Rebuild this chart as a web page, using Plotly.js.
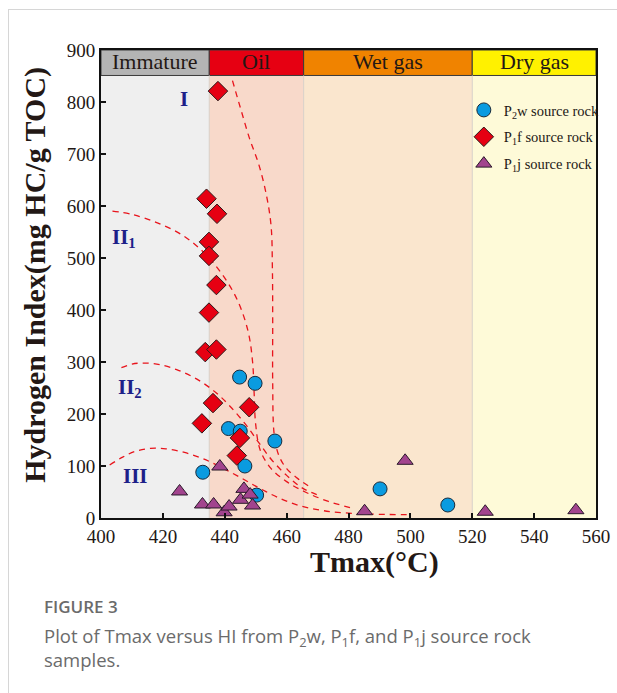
<!DOCTYPE html>
<html>
<head>
<meta charset="utf-8">
<script src="https://cdn.plot.ly/plotly-3.0.1.min.js"></script>
<style>
html,body{margin:0;padding:0;background:#fff;}
#frame{position:absolute;left:8px;top:9px;width:609px;height:684px;border-left:1px solid #d6d6d6;border-top:1px solid #d6d6d6;}
#chart{position:absolute;left:0;top:0;width:617px;height:693px;}
</style>
</head>
<body>
<div id="frame"></div>
<div id="chart"></div>
<script>
// Maturity zones (Tmax boundaries)
const zoneNames = ["Immature", "Oil", "Wet gas", "Dry gas"];
const zoneStart = [400, 435, 465.5, 520];
const zoneEnd   = [435, 465.5, 520, 560];
const zoneBg    = ["#efefef", "#f8d9ca", "#fae6ce", "#fefad8"];
const zoneHead  = ["#b4b4b4", "#e60012", "#f08300", "#fff100"];
const headBottom = 851, headTop = 900;

// P2w source rock (circles)
const p2w_tmax = [444.8, 449.8, 441.2, 445.0, 456.2, 446.5, 432.9, 450.3, 490.2, 512.1];
const p2w_hi   = [271, 259, 172, 167, 148, 100, 88, 44, 56, 25];

// P1f source rock (diamonds)
const p1f_tmax = [437.8, 434.1, 437.5, 434.9, 434.9, 437.3, 434.9, 433.7, 437.3, 436.2, 447.9, 432.6, 444.9, 443.9];
const p1f_hi   = [821, 614, 585, 531, 504, 448, 395, 319, 324, 221, 213, 182, 154, 120];

// P1j source rock (triangles)
const p1j_tmax = [425.4, 438.4, 432.8, 436.4, 439.8, 441.4, 445.1, 446.2, 448.2, 449.0, 498.3, 485.2, 524.2, 553.5];
const p1j_hi   = [51, 99, 26, 26, 11, 22, 35, 56, 45, 24, 110, 13, 12, 15];

// Kerogen type boundary curves (dashed)
const curveI_x   = [442.5, 445, 448, 451, 453.5, 455, 455.4, 455.5, 455.5, 456, 457.5, 460, 464, 468];
const curveI_y   = [841, 790, 730, 680, 620, 560, 480, 380, 260, 160, 120, 95, 74, 58];
const curveII1_x = [403.7, 410, 418, 426, 433, 439, 444, 447.5, 449, 449.5, 450, 451.5, 455, 460, 466, 473, 481];
const curveII1_y = [590, 584, 568, 545, 512, 470, 420, 360, 300, 240, 180, 130, 95, 70, 50, 33, 19];
const curveII2_x = [406.6, 410, 414, 419, 425, 431, 437, 442, 447, 451, 455, 460, 465, 471];
const curveII2_y = [289, 296, 298, 295, 284, 267, 242, 213, 178, 145, 113, 82, 58, 42];
const curveIII_x = [402.8, 407, 411, 416, 421, 427, 433, 439, 445, 451, 457, 464, 472, 481, 490, 500];
const curveIII_y = [102, 117, 128, 134, 133, 126, 114, 97, 78, 58, 40, 24, 14, 9, 7, 6.5];

// Kerogen type labels
const typeLabels = ["I", "II<sub>1</sub>", "II<sub>2</sub>", "III"];
const typeX = [426.7, 407.5, 409.5, 411];
const typeY = [806, 538, 250, 81];

const serif = "Liberation Serif, Times New Roman, serif";
const ink = "#231815";
const navy = "#1d2088";

const shapes = [];
const annotations = [];
for (let i = 0; i < zoneNames.length; i++) {
  shapes.push({type: "rect", xref: "x", yref: "y", x0: zoneStart[i], x1: zoneEnd[i], y0: 0, y1: headBottom,
    fillcolor: zoneBg[i], line: {width: 0}, layer: "below"});
  shapes.push({type: "rect", xref: "x", yref: "y", x0: zoneStart[i], x1: zoneEnd[i], y0: headBottom, y1: headTop,
    fillcolor: zoneHead[i], line: {width: 1, color: "#3a3a3a"}, layer: "below"});
  annotations.push({xref: "x", yref: "y", x: (zoneStart[i] + zoneEnd[i]) / 2, y: (headBottom + headTop) / 2,
    text: zoneNames[i], showarrow: false, xanchor: "center", yanchor: "middle",
    font: {family: serif, size: 22, color: ink}, yshift: 1});
}
for (let i = 1; i < zoneStart.length; i++) {
  shapes.push({type: "line", xref: "x", yref: "y", x0: zoneStart[i], x1: zoneStart[i], y0: 0, y1: headBottom,
    line: {width: 1, color: "#d8d0c8"}, layer: "below"});
}
for (let i = 0; i < typeLabels.length; i++) {
  annotations.push({xref: "x", yref: "y", x: typeX[i], y: typeY[i], text: "<b>" + typeLabels[i] + "</b>",
    showarrow: false, xanchor: "center", yanchor: "middle", font: {family: serif, size: 21, color: navy}});
}
// Axis titles
annotations.push({xref: "paper", yref: "paper", x: 0.552, y: -0.093, xanchor: "center", yanchor: "middle",
  text: "<b>Tmax(°C)</b>", showarrow: false, font: {family: serif, size: 30, color: ink}});
annotations.push({xref: "paper", yref: "paper", x: -0.135, y: 0.52, xanchor: "center", yanchor: "middle",
  text: "<b>Hydrogen Index(mg HC/g TOC)</b>", showarrow: false,
  textangle: -90, font: {family: serif, size: 30, color: ink}});
// Caption
const capFont = "Open Sans, Noto Sans, sans-serif";
annotations.push({xref: "paper", yref: "paper", x: -0.12, y: -0.19, xanchor: "left", yanchor: "middle",
  text: "FIGURE 3", showarrow: false, font: {family: capFont, size: 17, color: "#6b6b6b", weight: 600}});
annotations.push({xref: "paper", yref: "paper", x: -0.12, y: -0.254, xanchor: "left", yanchor: "middle",
  text: "Plot of Tmax versus HI from P<sub>2</sub>w, P<sub>1</sub>f, and P<sub>1</sub>j source rock", showarrow: false,
  font: {family: capFont, size: 18.5, color: "#6b6b6b"}});
annotations.push({xref: "paper", yref: "paper", x: -0.12, y: -0.303, xanchor: "left", yanchor: "middle",
  text: "samples.", showarrow: false, font: {family: capFont, size: 18.5, color: "#6b6b6b"}});

const curveStyle = {color: "#e8141c", width: 1.3, dash: "6px,5px"};
const traces = [
  {x: curveI_x, y: curveI_y, mode: "lines", line: Object.assign({shape: "spline"}, curveStyle), showlegend: false, hoverinfo: "skip"},
  {x: curveII1_x, y: curveII1_y, mode: "lines", line: Object.assign({shape: "spline"}, curveStyle), showlegend: false, hoverinfo: "skip"},
  {x: curveII2_x, y: curveII2_y, mode: "lines", line: Object.assign({shape: "spline"}, curveStyle), showlegend: false, hoverinfo: "skip"},
  {x: curveIII_x, y: curveIII_y, mode: "lines", line: Object.assign({shape: "spline"}, curveStyle), showlegend: false, hoverinfo: "skip"},
  {x: p2w_tmax, y: p2w_hi, mode: "markers", name: "P<sub>2</sub>w source rock", legendgroup: "a",
    marker: {symbol: "circle", size: 14, color: "#0a9be0", line: {width: 1, color: "#1a2a3a"}}},
  {x: p1f_tmax, y: p1f_hi, mode: "markers", name: "P<sub>1</sub>f source rock", legendgroup: "b",
    marker: {symbol: "diamond", size: 15, color: "#e60012", line: {width: 1, color: "#2a1a1a"}}},
  {x: p1j_tmax, y: p1j_hi, mode: "markers", name: "P<sub>1</sub>j source rock", legendgroup: "c",
    marker: {symbol: "triangle-up", size: 14, color: "#a2448e", line: {width: 1, color: "#2a1a2a"}}}
];

const layout = {
  width: 617, height: 693,
  margin: {l: 101, r: 21, t: 50, b: 175},
  paper_bgcolor: "rgba(0,0,0,0)",
  plot_bgcolor: "rgba(0,0,0,0)",
  showlegend: true,
  legend: {x: 0.733, y: 0.906, xanchor: "left", yanchor: "top", bgcolor: "rgba(0,0,0,0)",
    font: {family: serif, size: 14.5, color: ink}, traceorder: "grouped", tracegroupgap: 5, itemwidth: 30},
  xaxis: {range: [400, 560], dtick: 20, tick0: 400, ticks: "inside", ticklen: 5, tickwidth: 2, tickcolor: "#111",
    showline: true, linecolor: "#111", linewidth: 2, mirror: true, showgrid: false, zeroline: false,
    tickfont: {family: serif, size: 19, color: ink}},
  yaxis: {range: [0, 900], dtick: 100, tick0: 0, ticks: "inside", ticklen: 5, tickwidth: 2, tickcolor: "#111",
    showline: true, linecolor: "#111", linewidth: 2, mirror: true, showgrid: false, zeroline: false,
    tickfont: {family: serif, size: 19, color: ink}},
  shapes: shapes,
  annotations: annotations
};

Plotly.newPlot("chart", traces, layout, {displayModeBar: false, staticPlot: true});
</script>
</body>
</html>
